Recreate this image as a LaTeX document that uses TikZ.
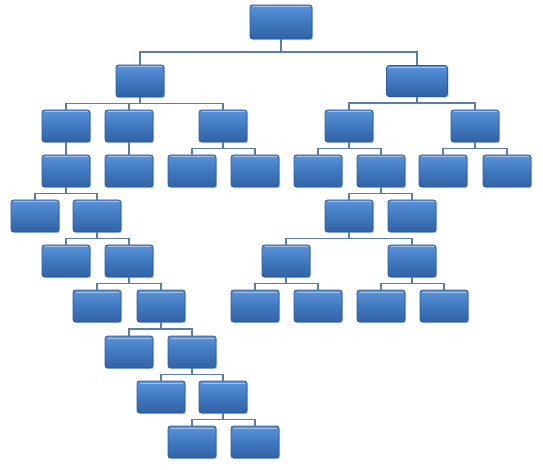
\documentclass[tikz,border=0pt]{standalone}
\usetikzlibrary{calc,shadows}
\definecolor{boxtop}{HTML}{5B93D9}
\definecolor{boxmid}{HTML}{4079C0}
\definecolor{boxbot}{HTML}{3262A4}
\definecolor{boxline}{HTML}{2D5A96}
\definecolor{halo}{HTML}{BCD0EA}
\definecolor{connc}{HTML}{5C7EA6}
\tikzset{
  box/.style={rectangle, rounded corners=2.5pt, minimum width=48pt, minimum height=32pt,
    inner sep=0pt, draw=boxline, line width=0.7pt,
    top color=boxtop, bottom color=boxbot, middle color=boxmid,
    drop shadow={shadow xshift=1.2pt, shadow yshift=-1.2pt, fill=halo, opacity=1},
    path picture={\draw[white, opacity=0.45, line width=1pt]
      ($(path picture bounding box.north west)+(2.5pt,-2pt)$) --
      ($(path picture bounding box.north east)+(-2.5pt,-2pt)$);}},
  widebox/.style={box, minimum width=62pt, minimum height=34pt},
  conn/.style={draw=connc, line width=1.8pt}
}
\begin{document}
\begin{tikzpicture}[x=1pt,y=-1pt]
\useasboundingbox (0,0) rectangle (543,470);
% root and level 1
\node[widebox] (r) at (281,22) {};
\node[box] (a) at (140,81) {};
\node[box, minimum width=61pt, minimum height=31pt] (b) at (417,81) {};
% left subtree
\node[box] (a1) at (66,126) {};
\node[box] (a2) at (129,126) {};
\node[box] (a3) at (223,126) {};
\node[box] (a11) at (66,171) {};
\node[box] (a21) at (129,171) {};
\node[box] (a31) at (192,171) {};
\node[box] (a32) at (255,171) {};
\node[box] (a111) at (35,216) {};
\node[box] (a112) at (97,216) {};
\node[box] (c1) at (66,261) {};
\node[box] (c2) at (129,261) {};
\node[box] (d1) at (97,306) {};
\node[box] (d2) at (161,306) {};
\node[box] (e1) at (129,352) {};
\node[box] (e2) at (192,352) {};
\node[box] (f1) at (161,397) {};
\node[box] (f2) at (223,397) {};
\node[box] (g1) at (192,442) {};
\node[box] (g2) at (255,442) {};
% right subtree
\node[box] (b1) at (349,126) {};
\node[box] (b2) at (475,126) {};
\node[box] (b11) at (318,171) {};
\node[box] (b12) at (381,171) {};
\node[box] (b21) at (443,171) {};
\node[box] (b22) at (507,171) {};
\node[box] (b121) at (349,216) {};
\node[box] (b122) at (412,216) {};
\node[box] (k1) at (286,261) {};
\node[box] (k2) at (412,261) {};
\node[box] (h1) at (255,306) {};
\node[box] (h2) at (318,306) {};
\node[box] (h3) at (381,306) {};
\node[box] (h4) at (444,306) {};
% connectors
\foreach \p/\c in {r/a, r/b,
  a/a1, a/a2, a/a3, a1/a11, a2/a21, a3/a31, a3/a32,
  a11/a111, a11/a112, a112/c1, a112/c2, c2/d1, c2/d2,
  d2/e1, d2/e2, e2/f1, e2/f2, f2/g1, f2/g2,
  b/b1, b/b2, b1/b11, b1/b12, b2/b21, b2/b22,
  b12/b121, b12/b122, b121/k1, b121/k2,
  k1/h1, k1/h2, k2/h3, k2/h4}
  \draw[conn] (\p.south) |- ($(\p.south)!.5!(\c.north)$) -| (\c.north);
\end{tikzpicture}
\end{document}
